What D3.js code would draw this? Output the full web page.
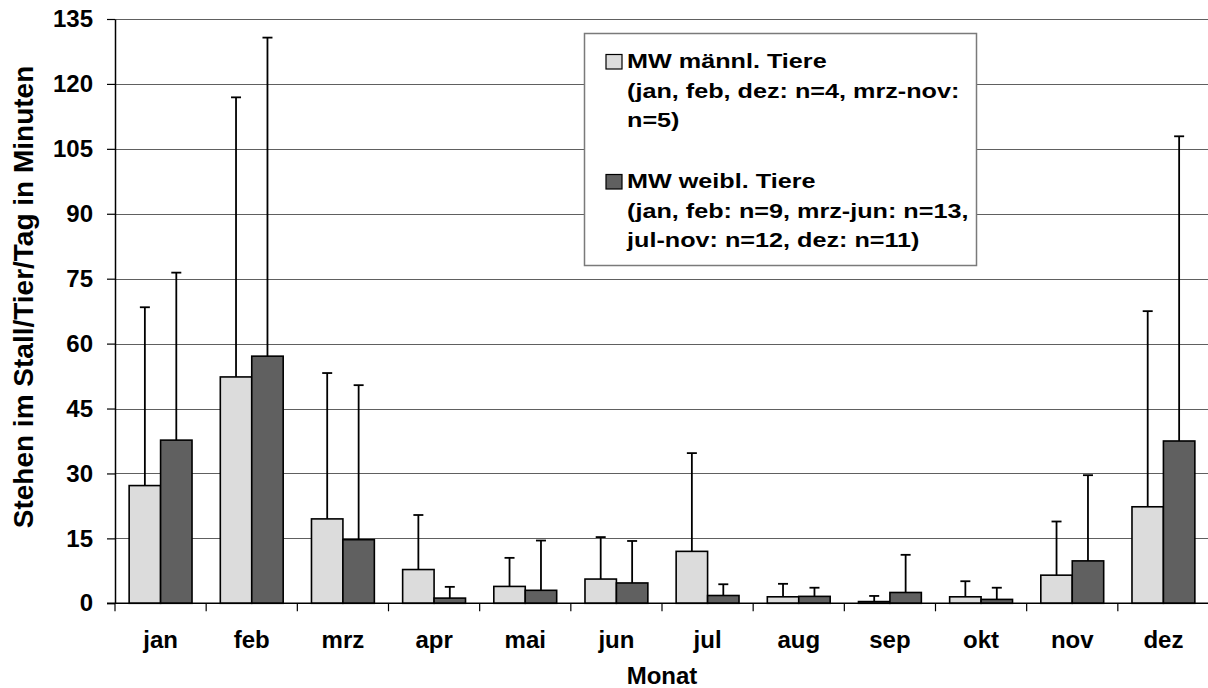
<!DOCTYPE html>
<html>
<head>
<meta charset="utf-8">
<script src="https://cdn.jsdelivr.net/npm/d3@7"></script>
<style>
  html, body { margin: 0; padding: 0; background: #fff; }
  svg { display: block; font-family: "Liberation Sans", Arial, Helvetica, sans-serif; font-weight: bold; }
</style>
</head>
<body>
<svg id="chart" width="1208" height="688"></svg>
<script>
// Monthly standing time in the barn (minutes per animal per day), mean + SD
const months = ["jan", "feb", "mrz", "apr", "mai", "jun", "jul", "aug", "sep", "okt", "nov", "dez"];
const maleMean   = [27.2, 52.3, 19.5, 7.8, 3.9, 5.6, 12.0, 1.5, 0.4, 1.5, 6.5, 22.3];
const maleSD     = [41.2, 64.6, 33.7, 12.6, 6.6, 9.7, 22.7, 3.0, 1.3, 3.6, 12.4, 45.2];
const femaleMean = [37.7, 57.1, 14.7, 1.2, 3.0, 4.7, 1.8, 1.6, 2.5, 0.9, 9.8, 37.5];
const femaleSD   = [38.7, 73.6, 35.7, 2.6, 11.5, 9.7, 2.6, 2.0, 8.7, 2.7, 19.8, 70.4];
const yTicks = [0, 15, 30, 45, 60, 75, 90, 105, 120, 135];
const seriesKeys = ["m", "w"];
const legendLines = [
  ["MW männl. Tiere", "(jan, feb, dez: n=4, mrz-nov:", "n=5)"],
  ["MW weibl. Tiere", "(jan, feb: n=9, mrz-jun: n=13,", "jul-nov: n=12, dez: n=11)"]
];
const yTitle = "Stehen im Stall/Tier/Tag in Minuten";
const xTitle = "Monat";

const fills = { m: "#dcdcdc", w: "#606060" };

const svg = d3.select("#chart");
const plotLeft = 115, plotRight = 1209, plotTop = 19, plotBottom = 603.3;

const x = d3.scaleBand().domain(months).range([plotLeft, plotRight]).paddingInner(0).paddingOuter(0);
const xs = d3.scaleBand().domain(seriesKeys).range([0, x.bandwidth()]).paddingInner(0).paddingOuter(0.45);
const y = d3.scaleLinear().domain([0, 135]).range([plotBottom, plotTop]);

const rows = months.map((mo, i) => ({
  month: mo,
  vals: [
    { key: "m", mean: maleMean[i], sd: maleSD[i] },
    { key: "w", mean: femaleMean[i], sd: femaleSD[i] }
  ]
}));

// horizontal gridlines
svg.append("g")
  .selectAll("line")
  .data(yTicks.filter(t => t > 0))
  .join("line")
  .attr("x1", plotLeft).attr("x2", 1208)
  .attr("y1", d => Math.round(y(d)) + 0.5).attr("y2", d => Math.round(y(d)) + 0.5)
  .attr("stroke", "#606060").attr("stroke-width", 1.2);

// y axis
const yAxis = svg.append("g")
  .attr("transform", `translate(${plotLeft},0)`)
  .call(d3.axisLeft(y).tickValues(yTicks).tickSize(8).tickPadding(14).tickSizeOuter(0));
yAxis.select(".domain").attr("stroke", "#000").attr("stroke-width", 1.5);
yAxis.selectAll(".tick line").attr("stroke", "#000").attr("stroke-width", 1.2);
yAxis.selectAll(".tick text")
  .attr("fill", "#000")
  .style("font-size", "24px").style("font-weight", "bold")
  .style("font-family", "'Liberation Sans', Arial, sans-serif");

// bars with error whiskers
const groups = svg.append("g")
  .selectAll("g")
  .data(rows)
  .join("g")
  .attr("transform", d => `translate(${x(d.month)},0)`);

groups.selectAll("line.err")
  .data(d => d.vals)
  .join("line")
  .attr("class", "err")
  .attr("x1", d => xs(d.key) + xs.bandwidth() / 2)
  .attr("x2", d => xs(d.key) + xs.bandwidth() / 2)
  .attr("y1", d => y(d.mean))
  .attr("y2", d => y(d.mean + d.sd))
  .attr("stroke", "#000").attr("stroke-width", 1.8);

groups.selectAll("line.cap")
  .data(d => d.vals)
  .join("line")
  .attr("class", "cap")
  .attr("x1", d => xs(d.key) + xs.bandwidth() / 2 - 5)
  .attr("x2", d => xs(d.key) + xs.bandwidth() / 2 + 5)
  .attr("y1", d => y(d.mean + d.sd))
  .attr("y2", d => y(d.mean + d.sd))
  .attr("stroke", "#000").attr("stroke-width", 1.8);

groups.selectAll("rect")
  .data(d => d.vals)
  .join("rect")
  .attr("x", d => xs(d.key))
  .attr("width", xs.bandwidth())
  .attr("y", d => y(d.mean))
  .attr("height", d => y(0) - y(d.mean))
  .attr("fill", d => fills[d.key])
  .attr("stroke", "#000").attr("stroke-width", 1.6);

// x axis: baseline, ticks at category boundaries, month labels
svg.append("line")
  .attr("x1", plotLeft - 8).attr("x2", 1208)
  .attr("y1", plotBottom).attr("y2", plotBottom)
  .attr("stroke", "#000").attr("stroke-width", 1.5);

svg.append("g")
  .selectAll("line")
  .data(months)
  .join("line")
  .attr("x1", d => x(d)).attr("x2", d => x(d))
  .attr("y1", plotBottom).attr("y2", plotBottom + 8)
  .attr("stroke", "#000").attr("stroke-width", 1.2);

const xAxis = svg.append("g")
  .attr("transform", `translate(0,${plotBottom})`)
  .call(d3.axisBottom(x).tickSize(0).tickPadding(28));
xAxis.select(".domain").remove();
xAxis.selectAll(".tick text")
  .attr("fill", "#000")
  .style("font-size", "24px").style("font-weight", "bold")
  .style("font-family", "'Liberation Sans', Arial, sans-serif");

// axis titles
svg.append("text")
  .attr("x", (plotLeft + plotRight) / 2).attr("y", 684)
  .attr("text-anchor", "middle")
  .style("font-size", "24px")
  .text(xTitle);

svg.append("text")
  .attr("transform", "translate(33,297) rotate(-90)")
  .attr("text-anchor", "middle")
  .style("font-size", "28px")
  .text(yTitle);

// legend
const legend = svg.append("g");
legend.append("rect")
  .attr("x", 584.5).attr("y", 33.5).attr("width", 392).attr("height", 232)
  .attr("fill", "#fff").attr("stroke", "#7a7a7a").attr("stroke-width", 1.5);

const entryOffset = [0, 120];
seriesKeys.forEach((k, i) => {
  const g = legend.append("g").attr("transform", `translate(0,${entryOffset[i]})`);
  g.append("rect")
    .attr("x", 606).attr("y", 54.5).attr("width", 16).attr("height", 14.5)
    .attr("fill", fills[k]).attr("stroke", "#000").attr("stroke-width", 1.2);
  const tg = g.append("g").attr("transform", "translate(627,0) scale(1.26,1)");
  legendLines[i].forEach((line, j) => {
    tg.append("text")
      .attr("x", 0).attr("y", 68.5 + j * 29.4)
      .style("font-size", "20px")
      .text(line);
  });
});
</script>
</body>
</html>
